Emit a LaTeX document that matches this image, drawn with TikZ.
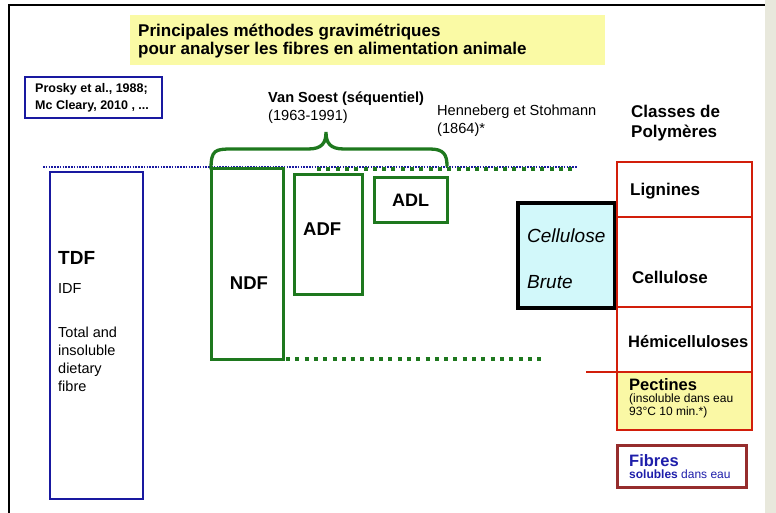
\documentclass[tikz,border=0pt]{standalone}
\usepackage{fontspec}
\setmainfont{Liberation Sans}
\definecolor{navy}{RGB}{25,25,160}
\definecolor{grn}{RGB}{30,120,30}
\definecolor{redc}{RGB}{210,30,10}
\definecolor{dred}{RGB}{150,45,45}
\definecolor{fblue}{RGB}{30,30,170}
\definecolor{cyanf}{RGB}{210,248,250}
\definecolor{ytitle}{RGB}{250,250,165}
\definecolor{ypect}{RGB}{250,248,165}
\definecolor{beige}{RGB}{232,232,220}
\begin{document}
\begin{tikzpicture}[x=1pt,y=-1pt,
  txt/.style={inner sep=0pt, anchor=west, align=left},
  shp/.style={anchor=north west, inner sep=0pt, outer sep=0pt},
  greenbox/.style={shp, draw=grn, line width=3pt},
  bluebox/.style={shp, draw=navy, line width=2.6pt},
  redbox/.style={shp, draw=redc, line width=2.5pt},
  gdots/.style={draw=grn, line width=3.5pt, dash pattern=on 4pt off 5.3pt},
  bdots/.style={draw=navy, line width=1.4pt, dash pattern=on 1.5pt off 1.3pt}
]
\useasboundingbox (0,0) rectangle (776,513);
\fill[white] (0,0) rectangle (776,513);
\fill[beige] (765,0) rectangle (776,513);
% frame
\draw[line width=1.8pt, black] (9,513) -- (9,5) -- (765,5);

% title
\node[shp, fill=ytitle, minimum width=475pt, minimum height=50pt] (titlebox) at (130,15) {};
\node[txt, font=\fontsize{17pt}{18.5pt}\selectfont\bfseries] (title) at (138,41) {Principales méthodes gravimétriques\\pour analyser les fibres en alimentation animale};

% Prosky box
\node[bluebox, minimum width=137pt, minimum height=41pt] (prosky) at (25,77) {};
\node[txt, font=\fontsize{12.5pt}{17pt}\selectfont\bfseries] (proskytxt) at (35,97.5) {Prosky et al., 1988;\\Mc Cleary, 2010 , ...};

% Van Soest
\node[txt, font=\fontsize{14.6pt}{18pt}\selectfont] (vs) at (268,108) {\textbf{Van Soest (séquentiel)}\\(1963-1991)};
\node[txt, font=\fontsize{14.6pt}{18pt}\selectfont] (hs) at (437,121) {Henneberg et Stohmann\\(1864)*};
\node[txt, font=\fontsize{17pt}{20pt}\selectfont\bfseries] (classes) at (631,123) {Classes de\\Polymères};

% dotted lines
\draw[bdots] (43,167) -- (577,167);
\coordinate (gtopL) at (317,169);
\coordinate (gtopR) at (577,169);
\draw[gdots, line width=3.3pt] (gtopL) -- (gtopR);

% TDF
\node[bluebox, minimum width=93pt, minimum height=327pt] (tdf) at (50,172) {};
\node[txt, font=\fontsize{19pt}{20pt}\selectfont\bfseries] (tdft) at (58,258) {TDF};
\node[txt, font=\fontsize{14.5pt}{18pt}\selectfont] (idf) at (58,289) {IDF};
\node[txt, font=\fontsize{14.5pt}{18pt}\selectfont, anchor=north west] (tot) at (58,327) {Total and\\insoluble\\dietary\\fibre};

% NDF ADF ADL
\node[greenbox, minimum width=72pt, minimum height=190pt] (ndf) at (211,169) {};
\node[inner sep=0pt, font=\fontsize{18.5pt}{20pt}\selectfont\bfseries] (ndft) at (249,283) {NDF};
\node[greenbox, minimum width=68pt, minimum height=119pt] (adf) at (294,175) {};
\node[txt, font=\fontsize{18.5pt}{20pt}\selectfont\bfseries] (adft) at (303,229) {ADF};
\node[greenbox, minimum width=73pt, minimum height=44pt] (adl) at (374,178) {};
\node[inner sep=0pt, font=\fontsize{18pt}{20pt}\selectfont\bfseries] (adlt) at (adl.center) {ADL};

% bottom green dotted line
\coordinate (gbotR) at (543,359);
\draw[gdots] ([xshift=3pt]ndf.south east) -- (gbotR);

% brace
\draw[grn, line width=3.3pt, line cap=round] (ndf.north west) .. controls (211,150) and (215,149) .. (232,149) -- (308,149)
  .. controls (322,149) and (326,143) .. (326,132)
  .. controls (326,143) and (330,149) .. (344,149) -- (430,149)
  .. controls (444,149) and (447,155) .. (447,166);

% Cellulose brute
\node[shp, draw=black, line width=3.2pt, fill=cyanf, minimum width=97pt, minimum height=105pt] (cb) at (518,203) {};
\node[txt, font=\fontsize{19pt}{20pt}\selectfont\itshape] (cbt1) at (527,236) {Cellulose};
\node[txt, font=\fontsize{19pt}{20pt}\selectfont\itshape] (cbt2) at (527,282) {Brute};

% red column
\node[redbox, minimum width=135pt, minimum height=55pt] (lig) at (617,162) {};
\node[redbox, minimum width=135pt, minimum height=90pt] (cel) at (617,217) {};
\node[redbox, minimum width=135pt, minimum height=65pt] (hemi) at (617,307) {};
\node[redbox, fill=ypect, minimum width=135pt, minimum height=58pt] (pect) at (617,372) {};
\coordinate (redL) at (586,372);
\draw[redc, line width=2.5pt] (redL) -- (pect.north west);
\node[txt, font=\fontsize{17pt}{20pt}\selectfont\bfseries] (ligt) at (630,191) {Lignines};
\node[txt, font=\fontsize{17pt}{20pt}\selectfont\bfseries] (celt) at (632,277) {Cellulose};
\node[txt, font=\fontsize{16.5pt}{20pt}\selectfont\bfseries] (hemit) at (628,342) {Hémicelluloses};
\node[txt, font=\fontsize{16.5pt}{20pt}\selectfont\bfseries] (pectt) at (629,385) {Pectines};
\node[txt, font=\fontsize{12pt}{12.5pt}\selectfont, anchor=north west] (pects) at (629,394) {(insoluble dans eau\\93°C 10 min.*)};

% Fibres solubles
\node[shp, draw=dred, line width=3pt, minimum width=129pt, minimum height=42pt] (fib) at (617,445) {};
\node[txt, text=fblue, font=\fontsize{16.5pt}{18pt}\selectfont\bfseries] (fibt) at (629,461) {Fibres};
\node[txt, text=fblue, font=\fontsize{12pt}{12pt}\selectfont] (fibs) at (629,474) {\textbf{solubles} dans eau};
\end{tikzpicture}
\end{document}
